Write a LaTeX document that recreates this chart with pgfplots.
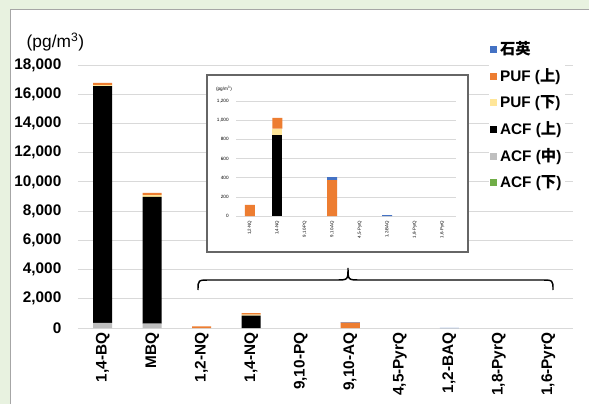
\documentclass[border=0pt]{standalone}
\usepackage{pgfplots}
\pgfplotsset{compat=1.18}
\usepackage{fontspec}
\setmainfont{Liberation Sans}
\newfontfamily\cjk{Noto Sans CJK JP}
\definecolor{bg}{RGB}{232,242,224}
\definecolor{quartz}{RGB}{68,114,196}
\definecolor{pufu}{RGB}{237,125,49}
\definecolor{pufl}{RGB}{255,230,153}
\definecolor{acfu}{RGB}{0,0,0}
\definecolor{acfm}{RGB}{191,191,191}
\definecolor{acfl}{RGB}{112,173,71}
\begin{document}
\begin{tikzpicture}
\useasboundingbox (0,0) rectangle (441.75pt,303pt);
\fill[bg] (0,0) rectangle (441.75pt,303pt);
\fill[white] (7.5pt,0) rectangle (441.75pt,295.5pt);
\draw[gray!70, line width=0.75pt] (7.5pt,0pt) -- (7.5pt,295.5pt) -- (441.75pt,295.5pt);

\node[anchor=west, font=\fontsize{13}{15}\selectfont] at (16.5pt,271.5pt) {(pg/m\textsuperscript{3})};

\begin{axis}[
  at={(58.5pt,57pt)}, anchor=south west,
  width=371.25pt, height=197.25pt, scale only axis,
  ybar stacked, bar width=14.25pt,
  xmin=-0.5, xmax=9.5, ymin=0, ymax=18000,
  xtick={0,...,9},
  xticklabels={{1,4-BQ},{MBQ},{1,2-NQ},{1,4-NQ},{9,10-PQ},{9,10-AQ},{4,5-PyrQ},{1,2-BAQ},{1,8-PyrQ},{1,6-PyrQ}},
  xticklabel style={rotate=90, anchor=east, font=\bfseries\fontsize{11.5}{13}\selectfont},
  ytick={0,2000,...,18000},
  scaled y ticks=false,
  yticklabel style={font=\bfseries\fontsize{11.5}{13}\selectfont, xshift=-9pt},
  /pgf/number format/.cd, 1000 sep={,}, fixed, assume math mode=true, /pgfplots/.cd,
  ymajorgrids, grid style={draw=gray!30, line width=0.6pt},
  axis line style={draw=none},
  major tick length=0pt,
  clip=false,
  reverse legend,
  legend cell align=left,
  legend image code/.code={\fill[#1] (0pt,-2.6pt) rectangle (5.2pt,2.6pt);},
  legend style={at={(0.83,1.11)}, anchor=north west, draw=none, fill=white,
    font=\bfseries\fontsize{11.5}{13}\selectfont, row sep=5pt, inner xsep=1pt},
]
\addplot[fill=acfl, draw=none] coordinates {(0,0) (1,0) (2,0) (3,0) (4,0) (5,0) (6,0) (7,0) (8,0) (9,0)};
\addplot[fill=acfm, draw=none] coordinates {(0,350) (1,300) (2,0) (3,0) (4,0) (5,0) (6,0) (7,0) (8,0) (9,0)};
\addplot[fill=acfu, draw=none] coordinates {(0,16200) (1,8670) (2,0) (3,840) (4,0) (5,0) (6,0) (7,0) (8,0) (9,0)};
\addplot[fill=pufl, draw=none] coordinates {(0,80) (1,120) (2,0) (3,73) (4,0) (5,0) (6,0) (7,0) (8,0) (9,0)};
\addplot[fill=pufu, draw=none] coordinates {(0,140) (1,150) (2,115) (3,110) (4,0) (5,375) (6,0) (7,0) (8,0) (9,0)};
\addplot[fill=quartz, draw=none] coordinates {(0,0) (1,0) (2,0) (3,0) (4,0) (5,30) (6,0) (7,8) (8,0) (9,0)};
\legend{ACF ({\cjk 下}), ACF ({\cjk 中}), ACF ({\cjk 上}), PUF ({\cjk 下}), PUF ({\cjk 上}), {\cjk 石英}}
\end{axis}

% inset box
\fill[white] (155.25pt,114pt) rectangle (351pt,246.75pt);
\draw[gray!80!black, line width=0.8pt] (155.25pt,114pt) rectangle (351pt,246.75pt);
\node[anchor=west, font=\fontsize{3.5}{4}\selectfont] at (158.5pt,236.25pt) {(pg/m\textsuperscript{3})};

\begin{axis}[
  at={(177pt,141pt)}, anchor=south west,
  width=165pt, height=86.25pt, scale only axis,
  ybar stacked, bar width=7.5pt,
  xmin=-0.5, xmax=7.5, ymin=0, ymax=1200,
  xtick={0,...,7},
  xticklabels={{1,2-NQ},{1,4-NQ},{9,10-PQ},{9,10-AQ},{4,5-PyrQ},{1,2-BAQ},{1,8-PyrQ},{1,6-PyrQ}},
  xticklabel style={rotate=90, anchor=east, font=\fontsize{3.3}{4}\selectfont},
  ytick={0,200,...,1200},
  scaled y ticks=false,
  yticklabel style={font=\fontsize{3.5}{4}\selectfont, xshift=-2pt},
  /pgf/number format/.cd, 1000 sep={,}, fixed, assume math mode=true, /pgfplots/.cd,
  ymajorgrids, grid style={draw=gray!30, line width=0.4pt},
  axis line style={draw=none},
  major tick length=0pt,
]
\addplot[fill=acfl, draw=none] coordinates {(0,0) (1,0) (2,0) (3,0) (4,0) (5,0) (6,0) (7,0)};
\addplot[fill=acfm, draw=none] coordinates {(0,0) (1,0) (2,0) (3,0) (4,0) (5,0) (6,0) (7,0)};
\addplot[fill=acfu, draw=none] coordinates {(0,0) (1,840) (2,0) (3,0) (4,0) (5,0) (6,0) (7,0)};
\addplot[fill=pufl, draw=none] coordinates {(0,0) (1,73) (2,0) (3,0) (4,0) (5,0) (6,0) (7,0)};
\addplot[fill=pufu, draw=none] coordinates {(0,115) (1,110) (2,0) (3,375) (4,0) (5,0) (6,0) (7,0)};
\addplot[fill=quartz, draw=none] coordinates {(0,0) (1,0) (2,0) (3,30) (4,0) (5,8) (6,0) (7,0)};
\end{axis}

% brace
\draw[line width=1.1pt] (148.5pt,85.5pt) .. controls (148.5pt,93pt) .. (157.5pt,93pt) -- (252pt,93pt) .. controls (261pt,93pt) .. (261pt,102pt) .. controls (261pt,93pt) .. (270pt,93pt) -- (405.75pt,93pt) .. controls (414.75pt,93pt) .. (414.75pt,85.5pt);
\end{tikzpicture}
\end{document}
